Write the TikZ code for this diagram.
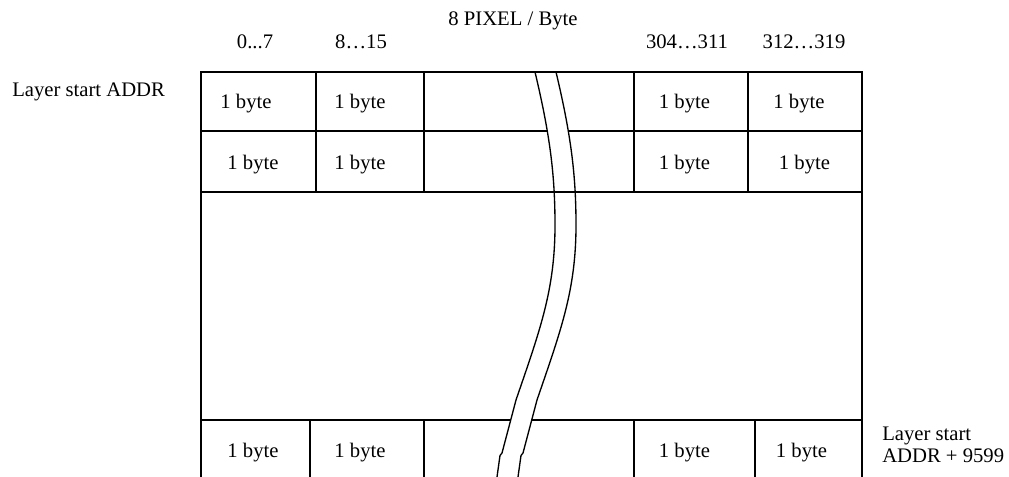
\documentclass[tikz,border=0pt]{standalone}
\usepackage{fontspec}
\setmainfont{Liberation Serif}
\begin{document}
\begin{tikzpicture}[x=0.75pt,y=-0.75pt,
lbl/.style={anchor=base,inner sep=0pt,font=\fontsize{15.5}{18}\selectfont},
rule/.style={line width=1pt,black},
tear/.style={line width=1pt,black}]
\useasboundingbox (0,0) rectangle (1009,477);
% frame and rows
\draw[rule] (201,477) -- (201,72) -- (862,72) -- (862,477);
\draw[rule] (201,192) -- (862,192);
\draw[rule] (201,131) -- (547,131) (568,131) -- (862,131);
\draw[rule] (201,420) -- (511,420) (532,420) -- (862,420);
\foreach \x in {316,424,634,748}{\draw[rule] (\x,72) -- (\x,192);}
\foreach \x in {310,424,634,755}{\draw[rule] (\x,420) -- (\x,477);}
% tear lines
\foreach \dx in {0,21}{\draw[tear,xshift=\dx*0.75pt] (535,72) .. controls (550,135) and (555,175) .. (555,225) .. controls (555,290) and (540,330) .. (516,400) -- (502,453) -- (500,455.5) -- (497,477);}
% headings
\node[lbl] (title) at (513,26) {8 PIXEL / Byte};
\node[lbl] (px0) at (255,49) {0...7};
\node[lbl] (px1) at (361,49) {8…15};
\node[lbl] (px38) at (687,49) {304…311};
\node[lbl] (px39) at (804,49) {312…319};
\node[lbl,anchor=base west] (addr) at (12,96.5) {Layer start ADDR};
\node[lbl,anchor=base west] (lasta) at (882,440) {Layer start};
\node[lbl,anchor=base west] (lastb) at (882,462) {ADDR + 9599};
% byte cells
\foreach \nm/\x/\y in {ra1/246/109,ra2/360/109,ra3/684.5/109,ra4/799/109,
rb1/253/170,rb2/360/170,rb3/684.5/170,rb4/804.5/170,
rc1/253/457,rc2/360/457,rc3/684.5/457,rc4/801.5/457}{\node[lbl] (\nm) at (\x,\y) {1 byte};}
\end{tikzpicture}
\end{document}
